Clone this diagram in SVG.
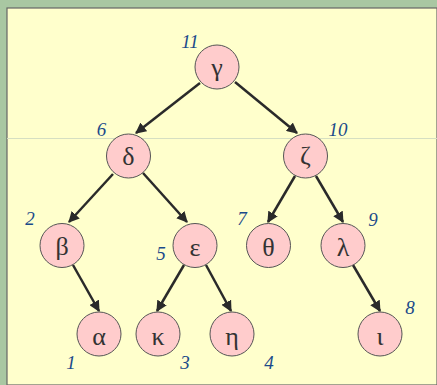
<svg xmlns="http://www.w3.org/2000/svg" width="437" height="385" viewBox="0 0 437 385">
<defs>
<style>
.nd{fill:#FFCCCC;stroke:#555;stroke-width:1}
.lt{font-family:"Liberation Serif","Times New Roman",serif;font-size:26px;fill:#333;text-anchor:middle}
.num{font-family:"Liberation Serif","Times New Roman",serif;font-style:italic;font-size:19px;fill:#1B4A8A;text-anchor:middle}
.ed{stroke:#2a2a2a;stroke-width:2.5;fill:none;marker-end:url(#ah)}
</style>
<marker id="ah" viewBox="0 0 10 10" refX="9" refY="5" markerWidth="4.4" markerHeight="4.4" orient="auto" markerUnits="strokeWidth">
<path d="M0,0 L10,5 L0,10 z" fill="#2a2a2a"/>
</marker>
</defs>
<rect x="0" y="0" width="437" height="385" fill="#A9C7A2"/>
<rect x="7" y="8" width="430" height="377" fill="#FFFFCC" stroke="#666" stroke-width="1.2"/>
<line x1="7" y1="138.5" x2="437" y2="138.5" stroke="#D6DFC2" stroke-width="1"/>
<g id="connectors">
<line class="ed" x1="200" y1="83" x2="136" y2="133"/>
<line class="ed" x1="235" y1="82" x2="297" y2="133"/>
<line class="ed" x1="113" y1="174" x2="69" y2="222"/>
<line class="ed" x1="143" y1="173" x2="187" y2="222"/>
<line class="ed" x1="295" y1="176" x2="268" y2="222"/>
<line class="ed" x1="316" y1="176" x2="343" y2="222"/>
<line class="ed" x1="73" y1="265" x2="99" y2="311"/>
<line class="ed" x1="184" y1="265" x2="157" y2="311"/>
<line class="ed" x1="206" y1="265" x2="231" y2="311"/>
<line class="ed" x1="353" y1="265" x2="380" y2="311"/>
</g>
<g id="n-gamma"><circle class="nd" cx="217" cy="67" r="22"/><text class="lt" x="217" y="76">γ</text><text class="num" x="190" y="48">11</text></g>
<g id="n-delta"><circle class="nd" cx="128.5" cy="156" r="22"/><text class="lt" x="128.5" y="165">δ</text><text class="num" x="101.5" y="136">6</text></g>
<g id="n-zeta"><circle class="nd" cx="305.5" cy="156" r="22"/><text class="lt" x="305.5" y="164">ζ</text><text class="num" x="338" y="136">10</text></g>
<g id="n-beta"><circle class="nd" cx="62" cy="245.5" r="22"/><text class="lt" x="62" y="255">β</text><text class="num" x="30" y="225">2</text></g>
<g id="n-epsilon"><circle class="nd" cx="195" cy="245.5" r="22"/><text class="lt" x="195" y="256">ε</text><text class="num" x="161" y="260">5</text></g>
<g id="n-theta"><circle class="nd" cx="268.5" cy="245.5" r="22"/><text class="lt" x="268.5" y="256">θ</text><text class="num" x="242" y="225">7</text></g>
<g id="n-lambda"><circle class="nd" cx="343" cy="245.5" r="22"/><text class="lt" x="343" y="256">λ</text><text class="num" x="373" y="226">9</text></g>
<g id="n-alpha"><circle class="nd" cx="99" cy="334" r="22"/><text class="lt" x="99" y="345">α</text><text class="num" x="71" y="369">1</text></g>
<g id="n-kappa"><circle class="nd" cx="158" cy="334" r="22"/><text class="lt" x="158" y="345">κ</text><text class="num" x="185" y="369">3</text></g>
<g id="n-eta"><circle class="nd" cx="232" cy="334" r="22"/><text class="lt" x="232" y="345">η</text><text class="num" x="269" y="369">4</text></g>
<g id="n-iota"><circle class="nd" cx="380" cy="334" r="22"/><text class="lt" x="380" y="345">ι</text><text class="num" x="410" y="314">8</text></g>
</svg>
